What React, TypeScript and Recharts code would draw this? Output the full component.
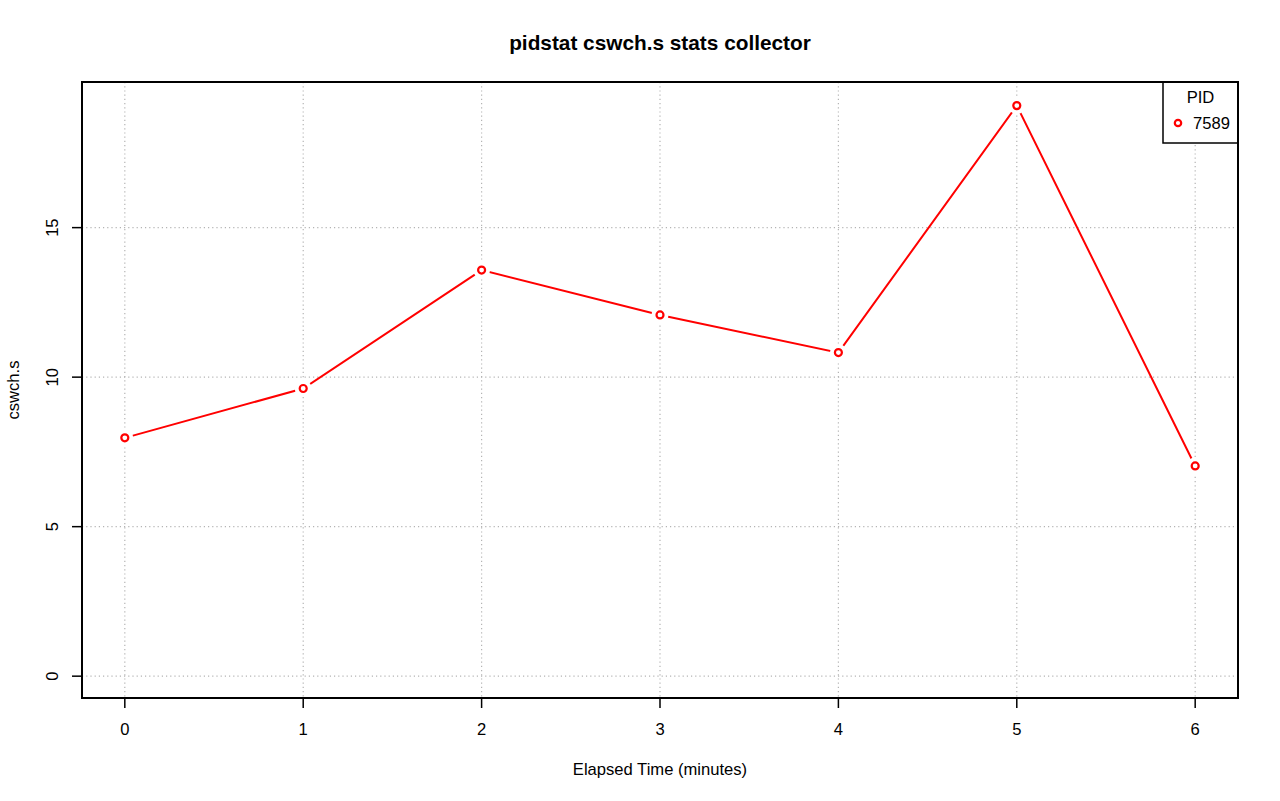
import React from 'react';
import {
  LineChart,
  Line,
  XAxis,
  YAxis,
  CartesianGrid,
  ReferenceArea,
} from 'recharts';

const minutes = [0, 1, 2, 3, 4, 5, 6];
const cswch = [7.97, 9.62, 13.58, 12.08, 10.82, 19.08, 7.03];
const xTicks = [0, 1, 2, 3, 4, 5, 6];
const yTicks = [0, 5, 10, 15];
const pidName = '7589';

const X_DOMAIN: [number, number] = [-0.24, 6.24];
const Y_DOMAIN: [number, number] = [-0.73, 19.87];

const FONT = '"Liberation Sans", Arial, Helvetica, sans-serif';
const RED = '#ff0000';

const data = minutes.map((t, i) => ({ t, v: cswch[i] }));

const renderXTick = (props: { x?: number; y?: number; payload?: { value: number } }) => {
  const { x = 0, y = 0, payload } = props;
  return (
    <text x={x} y={y + 27} textAnchor="middle" fontSize={16.6} fontFamily={FONT} fill="#000">
      {payload?.value}
    </text>
  );
};

const renderYTick = (props: { x?: number; y?: number; payload?: { value: number } }) => {
  const { x = 0, y = 0, payload } = props;
  const bx = x - 14;
  return (
    <text
      x={bx}
      y={y}
      transform={`rotate(-90 ${bx} ${y})`}
      textAnchor="middle"
      fontSize={16.6}
      fontFamily={FONT}
      fill="#000"
    >
      {payload?.value}
    </text>
  );
};

// R type="b": open circle with a small gap where the line meets it
const renderDot = (props: { cx?: number; cy?: number; index?: number }) => {
  const { cx = 0, cy = 0, index = 0 } = props;
  return (
    <g key={`dot-${index}`}>
      <circle cx={cx} cy={cy} r={8.5} fill="#fff" stroke="none" />
      <circle cx={cx} cy={cy} r={3.5} fill="#fff" stroke={RED} strokeWidth={2.2} />
    </g>
  );
};

const PidLegend = () => (
  <g fontFamily={FONT} fontSize={16.6}>
    <rect x={1163} y={82} width={75} height={61} fill="#fff" stroke="#000" strokeWidth={1.5} />
    <text x={1200.5} y={103} textAnchor="middle" fill="#000">
      PID
    </text>
    <circle cx={1178} cy={123} r={3.2} fill="#fff" stroke={RED} strokeWidth={2.2} />
    <text x={1193} y={129} fill="#000">
      {pidName}
    </text>
  </g>
);

const App: React.FC = () => {
  return (
    <div style={{ position: 'absolute', left: 0, top: 0, width: 1280, height: 801, background: '#fff' }}>
      <LineChart
        width={1280}
        height={801}
        data={data}
        margin={{ top: 82, right: 42, left: 0, bottom: 0 }}
      >
        <CartesianGrid stroke="#b4b4b4" strokeDasharray="1.2 3" strokeWidth={1.2} />
        <XAxis
          dataKey="t"
          type="number"
          domain={X_DOMAIN}
          ticks={xTicks}
          height={103}
          axisLine={false}
          tickLine={{ stroke: '#000', strokeWidth: 1.5 }}
          tickSize={10}
          tickMargin={0}
          tick={renderXTick}
          allowDataOverflow
        />
        <YAxis
          type="number"
          domain={Y_DOMAIN}
          ticks={yTicks}
          width={82}
          axisLine={false}
          tickLine={{ stroke: '#000', strokeWidth: 1.5 }}
          tickSize={10}
          tickMargin={0}
          tick={renderYTick}
          allowDataOverflow
        />
        <Line
          type="linear"
          dataKey="v"
          stroke={RED}
          strokeWidth={2}
          dot={renderDot}
          activeDot={false}
          isAnimationActive={false}
        />
        <ReferenceArea
          x1={X_DOMAIN[0]}
          x2={X_DOMAIN[1]}
          y1={Y_DOMAIN[0]}
          y2={Y_DOMAIN[1]}
          fill="none"
          stroke="#000"
          strokeWidth={2}
          fillOpacity={0}
        />
        <PidLegend />
        <text
          x={660}
          y={50}
          textAnchor="middle"
          fontFamily={FONT}
          fontWeight="bold"
          fontSize={20.8}
          fill="#000"
        >
          pidstat cswch.s stats collector
        </text>
        <text x={660} y={775} textAnchor="middle" fontFamily={FONT} fontSize={16.6} fill="#000">
          Elapsed Time (minutes)
        </text>
        <text
          x={19}
          y={390}
          transform="rotate(-90 19 390)"
          textAnchor="middle"
          fontFamily={FONT}
          fontSize={16.6}
          fill="#000"
        >
          cswch.s
        </text>
      </LineChart>
    </div>
  );
};

export default App;
